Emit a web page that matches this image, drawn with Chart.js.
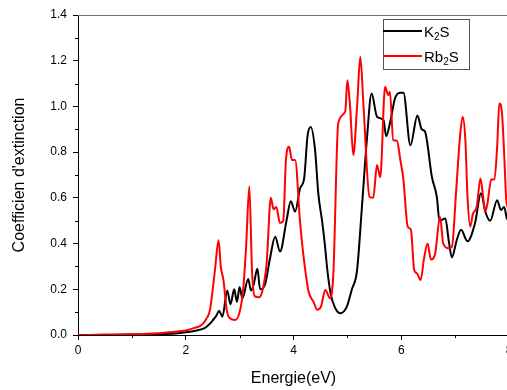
<!DOCTYPE html>
<html><head><meta charset="utf-8">
<script src="https://cdn.jsdelivr.net/npm/chart.js@4"></script>
<style>html,body{margin:0;padding:0;overflow:hidden;background:#fff;width:507px;height:390px}</style>
</head><body>
<canvas id="c" width="520" height="390" style="width:520px;height:390px;display:block"></canvas>
<script>
const seriesNames = ['K2S', 'Rb2S'];
const energyK2S = [0,0.5,1.0,1.5,1.8,2.0,2.2,2.35,2.45,2.52,2.57,2.62,2.68,2.77,2.83,2.90,2.95,3.00,3.05,3.16,3.21,3.26,3.33,3.38,3.47,3.56,3.66,3.75,3.87,3.95,4.03,4.12,4.20,4.26,4.32,4.40,4.46,4.53,4.58,4.63,4.69,4.77,4.87,4.99,5.08,5.18,5.27,5.36,5.45,5.55,5.67,5.72,5.79,5.89,5.99,6.04,6.17,6.30,6.38,6.44,6.57,6.66,6.71,6.82,6.88,6.94,7.03,7.11,7.23,7.37,7.48,7.56,7.65,7.78,7.85,7.91,7.96,8.0];
const valuesK2S = [0,0.001,0.002,0.004,0.007,0.012,0.02,0.03,0.05,0.07,0.085,0.106,0.08,0.195,0.135,0.20,0.145,0.21,0.16,0.245,0.195,0.22,0.29,0.20,0.22,0.33,0.43,0.365,0.50,0.585,0.54,0.64,0.69,0.87,0.91,0.81,0.62,0.50,0.40,0.28,0.18,0.12,0.095,0.124,0.197,0.284,0.56,0.85,1.057,0.955,0.94,0.87,0.926,1.04,1.06,1.06,0.83,0.96,0.90,0.89,0.69,0.605,0.50,0.51,0.415,0.34,0.415,0.46,0.41,0.49,0.62,0.54,0.50,0.59,0.547,0.56,0.51,0.50];
const energyRb2S = [0,0.5,1.0,1.5,1.8,2.0,2.15,2.3,2.38,2.45,2.54,2.61,2.65,2.70,2.76,2.82,2.92,3.01,3.07,3.12,3.18,3.23,3.28,3.36,3.42,3.50,3.58,3.63,3.68,3.75,3.81,3.86,3.92,3.97,4.03,4.12,4.18,4.28,4.37,4.44,4.51,4.59,4.68,4.74,4.83,4.96,5.00,5.05,5.11,5.18,5.24,5.30,5.41,5.48,5.55,5.61,5.70,5.76,5.79,5.85,5.92,5.98,6.04,6.12,6.18,6.24,6.29,6.36,6.42,6.49,6.55,6.63,6.72,6.78,6.88,6.94,7.02,7.09,7.14,7.19,7.23,7.28,7.33,7.40,7.47,7.52,7.56,7.60,7.67,7.73,7.78,7.82,7.87,7.91,7.95,8.0];
const valuesRb2S = [0,0.001,0.003,0.008,0.014,0.02,0.03,0.045,0.07,0.11,0.28,0.415,0.30,0.24,0.11,0.073,0.066,0.11,0.21,0.386,0.65,0.28,0.17,0.165,0.19,0.31,0.60,0.55,0.56,0.49,0.50,0.766,0.824,0.766,0.766,0.50,0.357,0.19,0.146,0.11,0.124,0.197,0.16,0.27,0.926,0.977,1.115,1.0,0.787,1.0,1.217,1.0,0.605,0.60,0.744,0.69,1.086,1.05,1.064,0.853,0.85,0.77,0.68,0.474,0.46,0.284,0.27,0.24,0.33,0.40,0.33,0.357,0.517,0.40,0.38,0.386,0.634,0.867,0.955,0.853,0.605,0.474,0.53,0.56,0.685,0.605,0.54,0.576,0.68,0.68,0.824,1.013,0.97,0.795,0.59,0.55];
const xMinorTicks = [1, 3, 5, 7];
const yMinorTicks = [0.1, 0.3, 0.5, 0.7, 0.9, 1.1, 1.3];
const xTitle = 'Energie(eV)';
const yTitle = "Coefficien d'extinction";

const FONT = "'Liberation Sans', Arial, sans-serif";

const decor = {
  id: 'decor',
  afterDraw(chart) {
    const ctx = chart.ctx, xs = chart.scales.x, ys = chart.scales.y, a = chart.chartArea;
    ctx.save();
    ctx.strokeStyle = '#000'; ctx.lineWidth = 1;
    ctx.beginPath();
    xMinorTicks.forEach(v => { const px = Math.round(xs.getPixelForValue(v)) + 0.5; ctx.moveTo(px, a.bottom); ctx.lineTo(px, a.bottom + 3); });
    yMinorTicks.forEach(v => { const py = Math.round(ys.getPixelForValue(v)) + 0.5; ctx.moveTo(a.left, py); ctx.lineTo(a.left - 3, py); });
    ctx.stroke();
    // top frame
    ctx.strokeStyle = '#707070';
    ctx.beginPath(); ctx.moveTo(a.left, Math.round(a.top) + 0.5); ctx.lineTo(chart.width, Math.round(a.top) + 0.5); ctx.stroke();
    // legend
    const lx = 383, ly = 19, lw = 86, lh = 50;
    ctx.fillStyle = '#fff'; ctx.fillRect(lx, ly, lw, lh);
    ctx.strokeStyle = '#555'; ctx.strokeRect(lx + 0.5, ly + 0.5, lw, lh);
    const items = [{c: '#000', a: 'K', b: 'S', y: 31}, {c: '#ff0000', a: 'Rb', b: 'S', y: 56}];
    items.forEach(it => {
      ctx.strokeStyle = it.c; ctx.lineWidth = 2;
      ctx.beginPath(); ctx.moveTo(lx, it.y); ctx.lineTo(lx + 39, it.y); ctx.stroke();
      ctx.fillStyle = '#000'; ctx.textBaseline = 'alphabetic';
      let tx = lx + 41;
      ctx.font = '15px ' + FONT;
      ctx.fillText(it.a, tx, it.y + 5.5); tx += ctx.measureText(it.a).width;
      ctx.font = '10px ' + FONT;
      ctx.fillText('2', tx, it.y + 8.5); tx += ctx.measureText('2').width;
      ctx.font = '15px ' + FONT;
      ctx.fillText(it.b, tx, it.y + 5.5);
    });
    ctx.restore();
  }
};

const mk = (xs, ys) => xs.map((x, i) => ({x, y: ys[i]}));

new Chart(document.getElementById('c'), {
  type: 'line',
  data: {
    datasets: [
      {label: seriesNames[0], data: mk(energyK2S, valuesK2S), borderColor: '#000', borderWidth: 2, pointRadius: 0, cubicInterpolationMode: 'monotone', order: 1},
      {label: seriesNames[1], data: mk(energyRb2S, valuesRb2S), borderColor: '#ff0000', borderWidth: 2, pointRadius: 0, cubicInterpolationMode: 'monotone', order: 0}
    ]
  },
  options: {
    responsive: false, animation: false, devicePixelRatio: 1,
    layout: {padding: {top: 15, right: 11, left: 0, bottom: 0}},
    plugins: {legend: {display: false}, tooltip: {enabled: false}},
    scales: {
      x: {
        type: 'linear', min: 0, max: 8,
        ticks: {stepSize: 2, color: '#000', font: {family: FONT, size: 12}, padding: 3, maxRotation: 0, autoSkip: false},
        grid: {drawOnChartArea: false, tickLength: 5, tickColor: '#000', tickWidth: 1},
        border: {color: '#000', width: 1},
        title: {display: true, text: xTitle, color: '#000', font: {family: FONT, size: 16}, padding: {top: 0, bottom: 2}},
        afterFit: s => { s.height = 55; }
      },
      y: {
        type: 'linear', min: 0, max: 1.4,
        ticks: {stepSize: 0.2, color: '#000', font: {family: FONT, size: 12}, padding: 6, callback: v => Number(v).toFixed(1)},
        grid: {drawOnChartArea: false, tickLength: 5, tickColor: '#000', tickWidth: 1},
        border: {color: '#000', width: 1},
        title: {display: true, text: yTitle, color: '#000', font: {family: FONT, size: 16}, padding: {top: 10, bottom: 0}},
        afterFit: s => { s.width = 78; }
      }
    }
  },
  plugins: [decor]
});
</script>
</body></html>
